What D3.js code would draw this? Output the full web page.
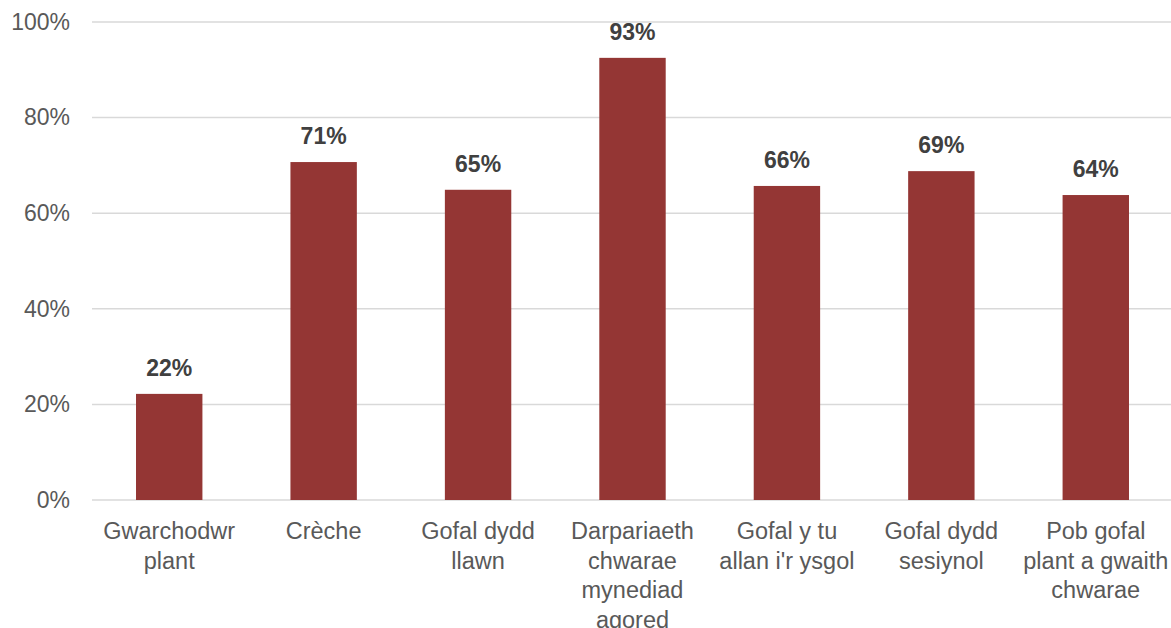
<!DOCTYPE html>
<html><head><meta charset="utf-8">
<script src="https://cdn.jsdelivr.net/npm/d3@7"></script>
<style>body{margin:0;background:#fff;}svg{display:block;}</style>
</head><body><svg id="c" width="1171" height="628"></svg>
<script>
const categories = [
  ["Gwarchodwr","plant"],
  ["Crèche"],
  ["Gofal dydd","llawn"],
  ["Darpariaeth","chwarae","mynediad","agored"],
  ["Gofal y tu","allan i'r ysgol"],
  ["Gofal dydd","sesiynol"],
  ["Pob gofal","plant a gwaith","chwarae"]
];
const values = [22.2, 70.7, 64.9, 92.5, 65.7, 68.8, 63.8];
const valueLabels = ["22%","71%","65%","93%","66%","69%","64%"];
const yTicks = [0,20,40,60,80,100];

const svg = d3.select("#c");
const m = {left:92, right:-2, top:22, bottom:128};
const W = 1171, H = 628;
const font = "Liberation Sans, Arial, sans-serif";
const x = d3.scaleBand().domain(d3.range(values.length)).range([m.left, W - m.right]).paddingInner(0.57).paddingOuter(0.285);
const y = d3.scaleLinear().domain([0,100]).range([H - m.bottom, m.top]);

const grid = svg.append("g");
grid.selectAll("line").data(yTicks).join("line")
  .attr("x1", m.left).attr("x2", W).attr("y1", d=>y(d)).attr("y2", d=>y(d))
  .attr("stroke", "#d9d9d9").attr("stroke-width", 1.5);

const yAxis = d3.axisLeft(y).tickValues(yTicks).tickFormat(d=>d+"%").tickSize(0).tickPadding(22);
const ga = svg.append("g").attr("transform", `translate(${m.left},0)`).call(yAxis);
ga.select(".domain").remove();
ga.selectAll("text").attr("font-family",font).attr("font-size",23).attr("fill","#595959");

svg.append("g").selectAll("rect").data(values).join("rect")
  .attr("x", (d,i)=>x(i)).attr("width", x.bandwidth())
  .attr("y", d=>y(d)).attr("height", d=>y(0)-y(d))
  .attr("fill", "#943634");

svg.append("g").selectAll("text").data(values).join("text")
  .attr("x", (d,i)=>x(i)+x.bandwidth()/2).attr("y", d=>y(d)-18)
  .attr("text-anchor","middle")
  .attr("font-family",font).attr("font-size",23).attr("font-weight","bold")
  .attr("fill","#404040").text((d,i)=>valueLabels[i]);

const cl = svg.append("g").selectAll("text").data(categories).join("text")
  .attr("x", (d,i)=>x(i)+x.bandwidth()/2).attr("y", 539)
  .attr("text-anchor","middle")
  .attr("font-family",font).attr("font-size",23.5).attr("fill","#595959");
cl.each(function(d,i){
  const t = d3.select(this);
  d.forEach((line,j)=>{
    t.append("tspan").attr("x", x(i)+x.bandwidth()/2).attr("y", 539 + j*29.5).text(line);
  });
});
</script></body></html>
